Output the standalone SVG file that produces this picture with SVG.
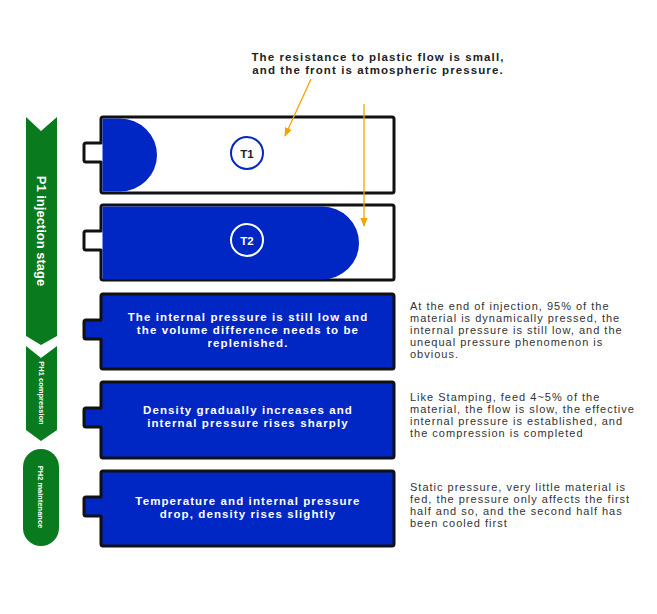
<svg xmlns="http://www.w3.org/2000/svg" width="657" height="614" viewBox="0 0 657 614">
<style>
.box{stroke:#111;stroke-width:3;stroke-linejoin:round}
.w{fill:#fff}.b{fill:#0026c4}
.t{font-family:"Liberation Sans",Arial,sans-serif;font-weight:bold;font-size:11.5px;fill:#fff;text-anchor:middle;letter-spacing:1.1px}
.n{font-family:"Liberation Sans",Arial,sans-serif;font-size:11px;fill:#333;letter-spacing:1px}
.g{fill:#0a7a1e}
.gt{font-family:"Liberation Sans",Arial,sans-serif;font-weight:bold;fill:#fff;text-anchor:middle}
.ar{stroke:#f5a300;stroke-width:1.3;fill:none}
</style>
<defs><marker id="ah" viewBox="0 0 10 10" refX="9" refY="5" markerWidth="7" markerHeight="7" orient="auto"><path d="M0,1L10,5L0,9z" fill="#f5a300"/></marker></defs>
<g id="banner1"><path class="g" d="M26,117L41,131L57,117V336L41,345L26,336Z"/><text class="gt" font-size="13" transform="translate(37,231) rotate(90)" text-anchor="middle">P1 injection stage</text></g>
<g id="banner2"><path class="g" d="M26,346L41,358L57,346V430L41,441L26,430Z"/><text class="gt" font-size="7.5" transform="translate(39,393) rotate(90)">PH1 compression</text></g>
<g id="banner3"><rect class="g" x="23" y="449" width="36" height="97" rx="18"/><text class="gt" font-size="7.5" transform="translate(38,497) rotate(90)">PH2 maintenance</text></g>
<g id="box1">
<path class="box w" d="M103,117H392a2,2 0 0 1 2,2V191a2,2 0 0 1-2,2H103a2,2 0 0 1-2-2V162H86a2,2 0 0 1-2-2V145a2,2 0 0 1 2-2H101V119a2,2 0 0 1 2-2Z"/>
<path class="b" d="M102.5,118.5H120a37,36.5 0 0 1 0,73H102.5Z"/>
<circle cx="247" cy="153" r="16" fill="#fff" stroke="#0026c4" stroke-width="2"/>
<text x="247" y="158" class="t" style="fill:#222;letter-spacing:0" font-size="13">T1</text>
</g>
<g id="box2">
<path class="box w" d="M103,205H392a2,2 0 0 1 2,2V278a2,2 0 0 1-2,2H103a2,2 0 0 1-2-2V250H86a2,2 0 0 1-2-2V233a2,2 0 0 1 2-2H101V207a2,2 0 0 1 2-2Z"/>
<path class="b" d="M102.5,206.5H322a37,36.5 0 0 1 0,73H102.5Z"/>
<circle cx="247" cy="240" r="16" fill="none" stroke="#fff" stroke-width="2"/>
<text x="247" y="245" class="t" style="letter-spacing:0" font-size="13">T2</text>
</g>
<g id="box3">
<path class="box b" d="M103,294H392a2,2 0 0 1 2,2V367a2,2 0 0 1-2,2H103a2,2 0 0 1-2-2V339H86a2,2 0 0 1-2-2V322a2,2 0 0 1 2-2H101V296a2,2 0 0 1 2-2Z"/>
<text class="t" x="248" y="321">The internal pressure is still low and</text>
<text class="t" x="248" y="334">the volume difference needs to be</text>
<text class="t" x="248" y="347">replenished.</text>
</g>
<g id="box4">
<path class="box b" d="M103,382H392a2,2 0 0 1 2,2V456a2,2 0 0 1-2,2H103a2,2 0 0 1-2-2V427H86a2,2 0 0 1-2-2V410a2,2 0 0 1 2-2H101V384a2,2 0 0 1 2-2Z"/>
<text class="t" x="248" y="414">Density gradually increases and</text>
<text class="t" x="248" y="427">internal pressure rises sharply</text>
</g>
<g id="box5">
<path class="box b" d="M103,471H392a2,2 0 0 1 2,2V544a2,2 0 0 1-2,2H103a2,2 0 0 1-2-2V516H86a2,2 0 0 1-2-2V499a2,2 0 0 1 2-2H101V473a2,2 0 0 1 2-2Z"/>
<text class="t" x="248" y="505">Temperature and internal pressure</text>
<text class="t" x="248" y="518">drop, density rises slightly</text>
</g>
<g id="notes">
<text class="t" style="fill:#222" x="378" y="61">The resistance to plastic flow is small,</text>
<text class="t" style="fill:#222" x="378" y="74">and the front is atmospheric pressure.</text>
<text class="n" x="410" y="310">At the end of injection, 95% of the</text>
<text class="n" x="410" y="322">material is dynamically pressed, the</text>
<text class="n" x="410" y="334">internal pressure is still low, and the</text>
<text class="n" x="410" y="346">unequal pressure phenomenon is</text>
<text class="n" x="410" y="358">obvious.</text>
<text class="n" x="410" y="401">Like Stamping, feed 4~5% of the</text>
<text class="n" x="410" y="413">material, the flow is slow, the effective</text>
<text class="n" x="410" y="425">internal pressure is established, and</text>
<text class="n" x="410" y="437">the compression is completed</text>
<text class="n" x="410" y="491">Static pressure, very little material is</text>
<text class="n" x="410" y="503">fed, the pressure only affects the first</text>
<text class="n" x="410" y="515">half and so, and the second half has</text>
<text class="n" x="410" y="527">been cooled first</text>
</g>
<g id="connectors">
<line class="ar" x1="311" y1="79" x2="285" y2="136" marker-end="url(#ah)"/>
<line class="ar" x1="364" y1="104" x2="364" y2="226" marker-end="url(#ah)"/>
</g>
</svg>
